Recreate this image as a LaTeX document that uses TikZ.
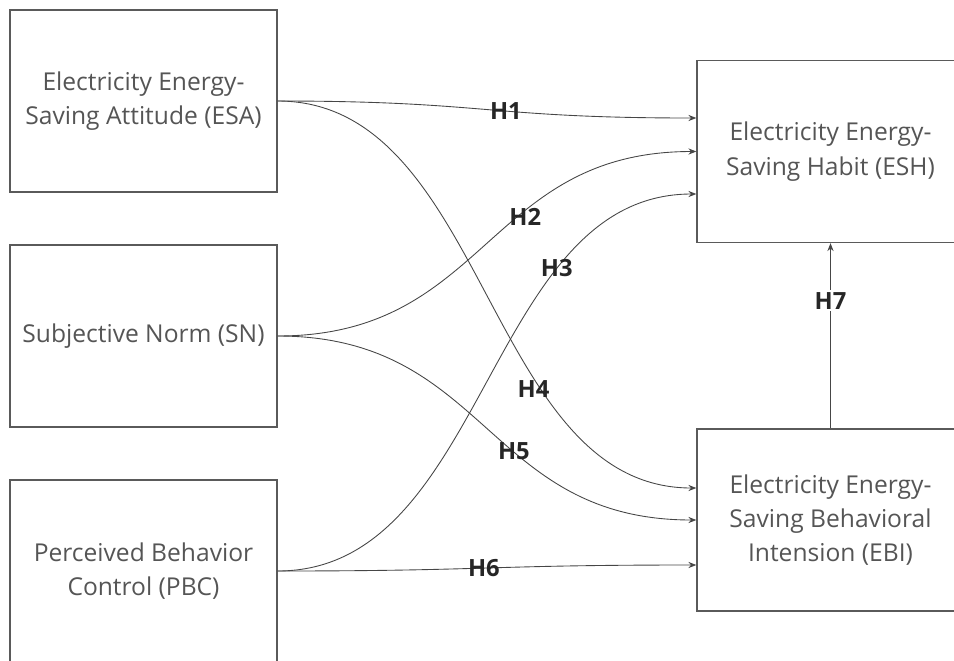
\documentclass[tikz,border=0pt]{standalone}
\usepackage{fontspec}
\setmainfont{Open Sans}
\definecolor{BoxGray}{RGB}{90,90,90}
\definecolor{TextGray}{RGB}{85,85,85}
\definecolor{LinkGray}{RGB}{70,70,70}
\definecolor{LabelDark}{RGB}{38,38,38}
\usetikzlibrary{
    arrows.meta,
    positioning,
    calc,
}

\begin{document}
\begin{tikzpicture}[x=0.02cm, y=-0.02cm,
        construct/.style={draw=BoxGray, line width=0.8pt, minimum width=5.34cm, minimum height=3.64cm,
            align=center, text=TextGray, font=\fontsize{14}{19.5}\selectfont},
        link/.style={draw=LinkGray, line width=0.5pt, -{Stealth[length=4.5pt,width=3.5pt]}},
        hyp/.style={font=\fontsize{13.5}{15}\selectfont\bfseries, text=LabelDark, inner sep=1pt}]
    \useasboundingbox (0,0) rectangle (954,660);
    \clip (0,0) rectangle (954,660);
    \node[construct] (ESA) at (143.5,101) {Electricity Energy-\\Saving Attitude (ESA)};
    \node[construct] (SN) at (143.5,336) {Subjective Norm (SN)};
    \node[construct] (PBC) at (143.5,571) {Perceived Behavior\\Control (PBC)};
    \node[construct] (ESH) at (830.5,151.5) {Electricity Energy-\\Saving Habit (ESH)};
    \node[construct] (EBI) at (830.5,520) {Electricity Energy-\\Saving Behavioral\\Intension (EBI)};
    \draw[link] (ESA.east) .. controls +(210,0) and +(-210,0) .. ($(ESH.west)+(0,-33.5)$) node[hyp, pos=.56] {H1};
    \draw[link] (SN.east) .. controls +(210,0) and +(-210,0) .. (ESH.west) node[hyp, pos=.62, yshift=-3pt] {H2};
    \draw[link] (PBC.east) .. controls +(210,0) and +(-210,0) .. ($(ESH.west)+(0,42.5)$) node[hyp, pos=.715, xshift=-1pt] {H3};
    \draw[link] (ESA.east) .. controls +(210,0) and +(-210,0) .. ($(EBI.west)+(0,-32)$) node[hyp, pos=.66, xshift=-3pt, yshift=-3pt] {H4};
    \draw[link] (SN.east) .. controls +(210,0) and +(-210,0) .. (EBI.west) node[hyp, pos=.585] {H5};
    \draw[link] (PBC.east) .. controls +(210,0) and +(-210,0) .. ($(EBI.west)+(0,45)$) node[hyp, pos=.49] {H6};
    \draw[link] (EBI.north) -- (ESH.south) node[hyp, fill=white, pos=.69] {H7};
\end{tikzpicture}
\end{document}
